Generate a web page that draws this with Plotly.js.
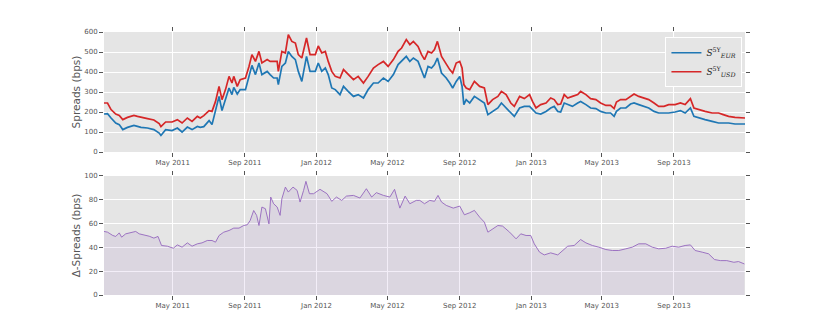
<!DOCTYPE html>
<html>
<head>
<meta charset="utf-8">
<script src="https://cdn.plot.ly/plotly-3.0.1.min.js"></script>
<style>
  html, body { margin: 0; padding: 0; background: #fff; }
  #chart { width: 830px; height: 328px; }
</style>
</head>
<body>
<div id="chart"></div>
<script>
// 5Y spreads (bps)
var dates = [
  '2011-01-04','2011-01-10','2011-01-16','2011-01-24','2011-01-30','2011-02-05','2011-02-13','2011-02-24',
  '2011-03-02','2011-03-08','2011-03-19','2011-03-30','2011-04-08','2011-04-11','2011-04-19','2011-04-30',
  '2011-05-09','2011-05-17','2011-05-26','2011-06-03','2011-06-12','2011-06-17','2011-06-23','2011-07-02',
  '2011-07-07','2011-07-13','2011-07-16','2011-07-19','2011-07-24','2011-07-30','2011-08-05','2011-08-10',
  '2011-08-13','2011-08-19','2011-08-24','2011-09-02','2011-09-08','2011-09-13','2011-09-19','2011-09-25',
  '2011-09-30','2011-10-09','2011-10-14','2011-10-20','2011-10-26','2011-10-28','2011-11-03','2011-11-09',
  '2011-11-14','2011-11-20','2011-11-26','2011-12-01','2011-12-07','2011-12-15','2011-12-21','2011-12-30',
  '2012-01-04','2012-01-10','2012-01-16','2012-01-21','2012-01-27','2012-02-02','2012-02-10','2012-02-16',
  '2012-02-24','2012-03-04','2012-03-12','2012-03-21','2012-03-29','2012-04-07','2012-04-15','2012-04-24',
  '2012-05-02','2012-05-11','2012-05-19','2012-05-25','2012-06-02','2012-06-08','2012-06-14','2012-06-22',
  '2012-06-28','2012-07-03','2012-07-09','2012-07-15','2012-07-20','2012-07-25','2012-08-01','2012-08-09',
  '2012-08-15','2012-08-20','2012-08-26','2012-09-01','2012-09-05','2012-09-08','2012-09-12','2012-09-18',
  '2012-09-26','2012-10-05','2012-10-13','2012-10-19','2012-10-27','2012-11-05','2012-11-11','2012-11-19',
  '2012-11-27','2012-12-03','2012-12-12','2012-12-20','2012-12-29','2013-01-03','2013-01-09','2013-01-17',
  '2013-01-26','2013-02-03','2013-02-09','2013-02-15','2013-02-20','2013-02-26','2013-03-04','2013-03-12',
  '2013-03-21','2013-03-26','2013-04-04','2013-04-12','2013-04-21','2013-04-29','2013-05-08','2013-05-16',
  '2013-05-22','2013-05-26','2013-06-02','2013-06-11','2013-06-19','2013-06-25','2013-07-03','2013-07-12',
  '2013-07-20','2013-07-29','2013-08-06','2013-08-15','2013-08-23','2013-09-03','2013-09-12','2013-09-20',
  '2013-09-29','2013-10-05','2013-10-13','2013-10-24','2013-11-05','2013-11-16','2013-11-24','2013-12-03',
  '2013-12-14','2013-12-26','2013-12-31'
];
var eur = [
  190,192,170,145,137,112,123,133, 128,123,120,112,95,83,112,107,
  120,100,125,112,128,123,127,157, 137,212,245,278,207,270,320,287,
  323,290,312,312,378,433,387,445, 387,403,387,370,370,337,428,445,
  503,478,462,403,353,478,403,403, 445,403,420,387,320,312,287,328,
  303,278,287,270,312,345,345,370, 353,387,437,453,478,453,470,453,
  403,370,428,420,437,470,395,370, 345,320,353,378,328,237,262,245,
  278,262,245,187,203,220,245,220, 195,178,220,228,228,212,195,190,
  203,220,228,203,200,245,237,228, 245,253,237,220,217,203,195,195,
  178,203,220,220,240,245,237,228, 220,203,195,195,195,200,207,195,
  220,178,170,162,153,145,145,145, 140,142,140
];
var usd = [
  245,245,212,190,183,162,173,183, 178,173,167,160,142,127,150,150,
  162,145,170,153,178,170,182,207, 203,253,287,328,262,312,378,345,
  378,328,362,370,428,487,453,503, 445,462,453,453,453,403,503,495,
  587,553,545,487,470,570,487,487, 530,495,503,453,403,378,370,412,
  387,362,378,345,378,420,437,453, 428,462,503,520,562,537,553,528,
  487,462,503,495,512,553,478,437, 412,395,445,453,420,337,320,312,
  353,328,320,237,262,278,303,287, 245,228,278,267,287,253,220,237,
  245,270,262,237,240,287,270,278, 287,303,287,267,262,245,233,233,
  217,250,262,262,278,290,278,270, 262,245,228,228,237,237,245,237,
  267,220,212,203,195,195,187,178, 173,173,170
];

// USD - EUR spread difference (bps)
var deltaDates = [
  '2011-01-04','2011-01-10','2011-01-19','2011-01-24','2011-01-30','2011-02-03','2011-02-10','2011-02-19',
  '2011-02-27','2011-03-05','2011-03-13','2011-03-22','2011-03-30','2011-04-06','2011-04-12','2011-04-22',
  '2011-05-02','2011-05-09','2011-05-17','2011-05-26','2011-06-03','2011-06-12','2011-06-20','2011-06-29',
  '2011-07-07','2011-07-13','2011-07-19','2011-07-27','2011-08-05','2011-08-13','2011-08-22','2011-08-30',
  '2011-09-05','2011-09-10','2011-09-16','2011-09-21','2011-09-25','2011-09-30','2011-10-06','2011-10-12',
  '2011-10-15','2011-10-20','2011-10-26','2011-10-31','2011-11-03','2011-11-09','2011-11-14','2011-11-22',
  '2011-11-29','2011-12-04','2011-12-10','2011-12-14','2011-12-20','2011-12-27','2012-01-07','2012-01-19',
  '2012-01-27','2012-02-04','2012-02-13','2012-02-21','2012-03-04','2012-03-15','2012-03-26','2012-04-04',
  '2012-04-12','2012-04-24','2012-05-05','2012-05-13','2012-05-22','2012-05-31','2012-06-08','2012-06-19',
  '2012-06-25','2012-07-03','2012-07-12','2012-07-20','2012-07-26','2012-08-01','2012-08-09','2012-08-21',
  '2012-09-01','2012-09-09','2012-09-18','2012-09-26','2012-10-05','2012-10-13','2012-10-19','2012-10-27',
  '2012-11-05','2012-11-13','2012-11-25','2012-12-06','2012-12-14','2012-12-23','2012-12-31','2013-01-06',
  '2013-01-15','2013-01-23','2013-02-03','2013-02-15','2013-02-23','2013-03-04','2013-03-15','2013-03-26',
  '2013-04-04','2013-04-15','2013-04-26','2013-05-08','2013-05-19','2013-05-30','2013-06-11','2013-06-22',
  '2013-07-03','2013-07-15','2013-07-26','2013-08-06','2013-08-18','2013-08-29','2013-09-09','2013-09-20',
  '2013-09-29','2013-10-07','2013-10-19','2013-10-30','2013-11-09','2013-11-19','2013-11-30','2013-12-12',
  '2013-12-20','2013-12-30'
];
var delta = [
  53.4,52.8,50,49.2,52.2,48.6,51.4,52.8, 53.4,51.4,50.6,49.4,47.8,49.2,41.6,41,
  39.3,42.1,40.2,43.8,41,43,43.8,45.8, 45.8,44.4,50,52.8,54.2,56.2,56.2,58.4,
  59,62.6,71,66.9,58.4,73.9,72.5,59.8, 82.3,76.7,73.9,66.9,80.9,90.7,86.5,90.7,
  87.9,78.1,87.9,95.5,85.1,85.1,88.8,85.1, 78.7,82.3,79.5,83.1,83.7,81.5,89.3,82.3,
  86,83.7,82.3,88.8,73,83.1,76.7,79.5, 79.5,76.7,79.5,78.7,83.7,78.1,75.3,73,
  74.7,67.4,69.1,71.1,65.4,61.2,52.8,55.6, 58.4,57.9,52.8,47.2,51.4,50,50,43,
  36,33.7,35.4,33.7,37.4,41,41.6,46.6, 43.8,41.6,40.2,38.2,37.4,37.4,38.8,40.2,
  43,43,40.2,38.8,39.3,41,40.2,41.6, 42.1,37.4,36,34.6,29.8,28.9,28.9,27.5,
  28.1,26.1
];

var xRange = ['2011-01-04', '2013-12-31'];
var tickFont = {family: 'DejaVu Sans', size: 7, color: '#555555'};
var titleFont = {family: 'DejaVu Sans', size: 10.5, color: '#555555'};

var traces = [
  {
    x: dates, y: eur, type: 'scatter', mode: 'lines',
    name: '<i>S</i><sup>5Y</sup><sub><i>EUR</i></sub>',
    line: {color: '#1f77b4', width: 1.7},
    xaxis: 'x', yaxis: 'y'
  },
  {
    x: dates, y: usd, type: 'scatter', mode: 'lines',
    name: '<i>S</i><sup>5Y</sup><sub><i>USD</i></sub>',
    line: {color: '#d62728', width: 1.7},
    xaxis: 'x', yaxis: 'y'
  },
  {
    x: deltaDates, y: delta, type: 'scatter', mode: 'lines',
    fill: 'tozeroy', fillcolor: 'rgba(148,103,189,0.11)',
    line: {color: '#9467bd', width: 0.9},
    showlegend: false,
    xaxis: 'x2', yaxis: 'y2'
  }
];

function xAxis(anchor) {
  return {
    anchor: anchor, type: 'date', range: xRange,
    dtick: 'M4', tick0: '2011-01-01', tickformat: '%b %Y',
    showgrid: true, gridcolor: '#ffffff', gridwidth: 1,
    ticks: 'outside', ticklen: 4, tickcolor: '#555555', mirror: 'ticks',
    tickfont: tickFont, zeroline: false, showline: false
  };
}

function yAxis(domain, top, step, label) {
  return {
    domain: domain, range: [0, top], dtick: step,
    showgrid: true, gridcolor: '#ffffff', zeroline: false,
    ticks: 'outside', ticklen: 4, tickcolor: '#555555', mirror: 'ticks',
    tickfont: tickFont,
    title: {text: label, font: titleFont, standoff: 1}
  };
}

var layout = {
  width: 830, height: 328,
  margin: {l: 104, r: 85, t: 32, b: 33},
  paper_bgcolor: '#ffffff',
  plot_bgcolor: '#e5e5e5',
  showlegend: true,
  legend: {
    x: 0.996, y: 0.98, xanchor: 'right', yanchor: 'top',
    bgcolor: '#e5e5e5', bordercolor: '#ffffff', borderwidth: 1,
    font: {family: 'DejaVu Serif', size: 9, color: '#222222'},
    tracegroupgap: 0, itemwidth: 30
  },
  xaxis: xAxis('y'),
  xaxis2: xAxis('y2'),
  yaxis: yAxis([0.5437, 1], 600, 100, 'Spreads (bps)'),
  yaxis2: yAxis([0, 0.4525], 100, 20, 'Δ-Spreads (bps)')
};

Plotly.newPlot('chart', traces, layout, {displayModeBar: false, staticPlot: true});
</script>
</body>
</html>
